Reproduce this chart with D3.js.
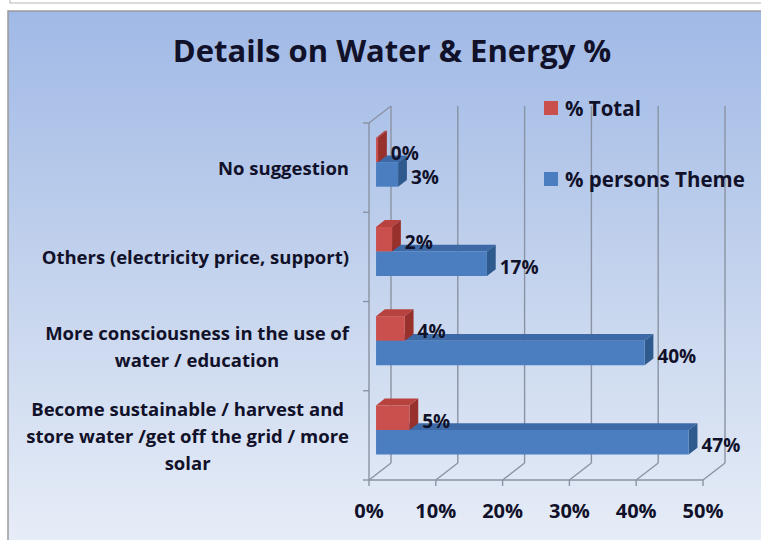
<!DOCTYPE html>
<html>
<head>
<meta charset="utf-8">
<script src="https://cdn.jsdelivr.net/npm/d3@7"></script>
<style>
  body { margin: 0; background: #fff; }
  text { font-family: "Open Sans", Lato, sans-serif; font-weight: bold; fill: #11112a; }
</style>
</head>
<body>
<div id="chart-area"></div>
<script>
// data, top to bottom as shown
const categories = [
  "No suggestion",
  "Others (electricity price, support)",
  "More consciousness in the use of\nwater / education",
  "Become sustainable / harvest and\nstore water /get off the grid / more\nsolar"
]
const seriesNames = ["% Total", "% persons Theme"]
const totalPct = [0.3, 2.4, 4.3, 5.0]
const themePct = [3.3, 16.6, 40.2, 46.8]
const xTicks = [0, 10, 20, 30, 40, 50]

const W = 761, H = 540
const DEPTH = { X: 22, Y: -17 }   // 3d offset front -> back wall
const BAR_D0 = 0.32, BAR_D1 = 0.72

const svg = d3.select("#chart-area").append("svg")
  .attr("width", W)
  .attr("height", H)

const defs = svg.append("defs")
const grad = defs.append("linearGradient")
  .attr("id", "bg").attr("x1", 0).attr("y1", 0).attr("x2", 0).attr("y2", 1)
grad.append("stop").attr("offset", "0%").attr("stop-color", "#a0b9e6")
grad.append("stop").attr("offset", "55%").attr("stop-color", "#c8d6ee")
grad.append("stop").attr("offset", "100%").attr("stop-color", "#e8eef8")

// top strip of the page behind
svg.append("rect")
  .attr("x", 10).attr("y", -10).attr("width", 760).attr("height", 13)
  .attr("fill", "#fff").attr("stroke", "#b5b5b5")

svg.append("rect")
  .attr("x", 8).attr("y", 11).attr("width", 770).attr("height", 540)
  .attr("fill", "url(#bg)").attr("stroke", "#9a9a9a").attr("stroke-width", 1.5)

// Title
svg.append("text")
  .attr("x", 392)
  .attr("y", 62)
  .attr("text-anchor", "middle")
  .style("font-size", "31px")
  .text("Details on Water & Energy %")

const x = d3.scaleLinear().domain([0, 50]).range([369, 703])
const y = d3.scaleBand().domain(categories).range([123, 480])
const ySub = d3.scaleBand().domain(seriesNames).range([0, y.bandwidth()]).paddingOuter(0.82)

const p = (vx, vy, d) => [vx + DEPTH.X * d, vy + DEPTH.Y * d]

const grid = svg.append("g").attr("stroke", "#8a93a3").attr("stroke-width", 1.4).attr("fill", "none")
const line = d3.line()

// back wall gridlines + floor slants + ticks
xTicks.forEach(t => {
  const xv = x(t)
  grid.append("path").attr("d", line([p(xv, 123, 1), p(xv, 480, 1)]))
  grid.append("path").attr("d", line([p(xv, 480, 0), p(xv, 480, 1)]))
  grid.append("path").attr("d", line([[xv, 480], [xv, 486]]))
})
// floor front edge
grid.append("path").attr("d", line([[x(0), 480], [x(50), 480]]))
// left wall
grid.append("path").attr("d", line([[x(0), 123], [x(0), 480]]))
grid.append("path").attr("d", line([p(x(0), 123, 0), p(x(0), 123, 1)]))
const bounds = categories.map(c => y(c)).concat([480])
bounds.forEach(b => {
  grid.append("path").attr("d", line([[x(0) - 6, b], [x(0), b]]))
})

// x tick labels
svg.append("g").selectAll("text")
  .data(xTicks)
  .enter().append("text")
  .attr("x", d => x(d))
  .attr("y", 518)
  .attr("text-anchor", "middle")
  .style("font-size", "20px")
  .text(d => d + "%")

// category labels, lines centered, block right aligned
const LABEL_RIGHT = 349, LINE_H = 27
categories.forEach(c => {
  const lines = c.split("\n")
  const g = svg.append("g")
  const texts = g.selectAll("text").data(lines).enter().append("text")
    .style("font-size", "18.5px")
    .attr("text-anchor", "middle")
    .attr("dominant-baseline", "central")
    .attr("y", (d, i) => y(c) + y.bandwidth() / 2 + (i - (lines.length - 1) / 2) * LINE_H)
    .text(d => d)
  let maxW = 0
  texts.each(function() { maxW = Math.max(maxW, this.getComputedTextLength()) })
  texts.attr("x", LABEL_RIGHT - maxW / 2)
})

// bars
const colors = {
  "% Total": { front: "#c9504c", top: "#b8423e", side: "#98302c" },
  "% persons Theme": { front: "#4a7ec0", top: "#3d6aa6", side: "#2f5a8e" }
}
const barG = svg.append("g")
const drawOrder = ["% persons Theme", "% Total"]
categories.forEach((c, i) => {
  drawOrder.forEach(s => {
    const v = s === "% Total" ? totalPct[i] : themePct[i]
    const col = colors[s]
    const yT = y(c) + ySub(s)
    const yB = yT + ySub.bandwidth()
    const x0 = x(0), x1 = x(v)
    barG.append("path").attr("fill", col.top)
      .attr("d", line([p(x0, yT, BAR_D0), p(x1, yT, BAR_D0), p(x1, yT, BAR_D1), p(x0, yT, BAR_D1)]) + "Z")
    barG.append("path").attr("fill", col.side)
      .attr("d", line([p(x1, yT, BAR_D0), p(x1, yT, BAR_D1), p(x1, yB, BAR_D1), p(x1, yB, BAR_D0)]) + "Z")
    barG.append("path").attr("fill", col.front)
      .attr("d", line([p(x0, yT, BAR_D0), p(x1, yT, BAR_D0), p(x1, yB, BAR_D0), p(x0, yB, BAR_D0)]) + "Z")
  })
})

// value labels
categories.forEach((c, i) => {
  seriesNames.forEach(s => {
    const v = s === "% Total" ? totalPct[i] : themePct[i]
    const yT = y(c) + ySub(s)
    const back = p(x(v), 0, BAR_D1)
    const front = p(x(v), yT + ySub.bandwidth() / 2, BAR_D0)
    svg.append("text")
      .attr("x", back[0] + 4)
      .attr("y", front[1] + 3)
      .attr("dominant-baseline", "central")
      .style("font-size", "19px")
      .text(Math.round(v) + "%")
  })
})

// legend
const legend = svg.append("g")
seriesNames.forEach((s, i) => {
  const ly = 108 + i * 71
  legend.append("rect")
    .attr("x", 544).attr("y", ly - 7).attr("width", 14).attr("height", 14)
    .attr("fill", colors[s].front)
  legend.append("text")
    .attr("x", 565).attr("y", ly)
    .attr("dominant-baseline", "central")
    .style("font-size", "20.5px")
    .text(s)
})
</script>
</body>
</html>
